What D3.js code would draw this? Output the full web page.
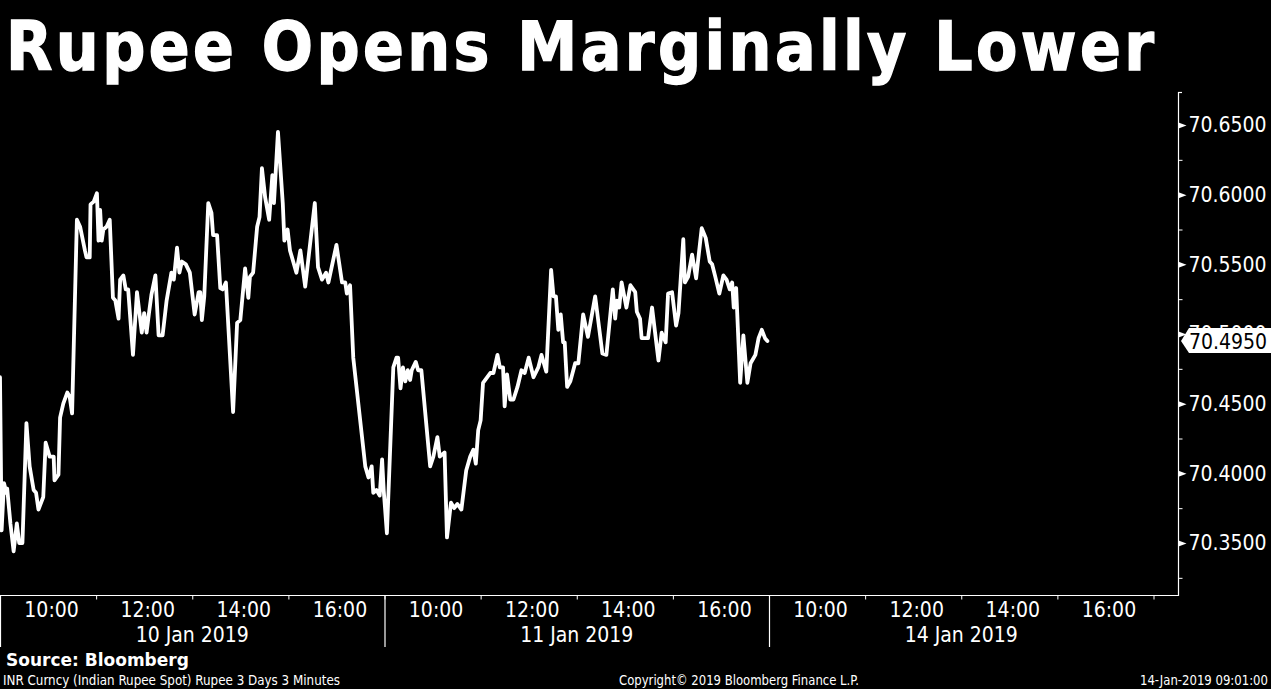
<!DOCTYPE html>
<html>
<head>
<meta charset="utf-8">
<script src="https://cdn.jsdelivr.net/npm/d3@7"></script>
<style>
  html, body { margin: 0; padding: 0; background: #000; }
  svg { display: block; }
  .cond { font-family: 'DejaVu Sans Condensed', 'DejaVu Sans', sans-serif; font-stretch: condensed; }
</style>
</head>
<body>
<svg id="chart" width="1271" height="689"></svg>
<script>
// ---------------- data ----------------
const titleText = "Rupee Opens Marginally Lower";
const sessionDates = ["10 Jan 2019", "11 Jan 2019", "14 Jan 2019"];
const sessionOpenHour = 9;   // 09:00
const sessionCloseHour = 17; // 17:00
const labelHours = [10, 12, 14, 16];
const labelTexts = ["10:00", "12:00", "14:00", "16:00"];
const minorHours = [11, 13, 15, 17];
const yTickValues = [70.35, 70.40, 70.45, 70.50, 70.55, 70.60, 70.65];
const yMinorTicks = [70.325, 70.375, 70.425, 70.475, 70.525, 70.575, 70.625];
const lastValue = 70.4950;

// minutes after 09:00 open, 10 Jan 2019
const jan10Minutes = [0,2,5,8,9,13,17,21,24,28,33,37,42,45,48,54,57,62,67,68,73,75,79,84,87,90,96,100,106,108,112,113,117,121,123,125,127,129,133,137,141,144,148,150,154,157,160,166,171,177,180,183,186,189,194,198,203,208,214,217,221,224,227,232,237,243,248,250,252,255,260,264,266,271,275,278,282,291,296,300,306,310,312,316,321,324,327,331,336,340,342,347,353,355,359,362,366,370,375,381,393,397,402,407,410,420,427,431,433,437,441,456,460,464,466,470,474,477,479];
const jan10Values = [70.469,70.359,70.393,70.386,70.389,70.364,70.344,70.364,70.350,70.350,70.436,70.405,70.388,70.386,70.374,70.383,70.422,70.412,70.412,70.395,70.399,70.440,70.450,70.458,70.455,70.443,70.582,70.577,70.560,70.555,70.555,70.593,70.595,70.601,70.567,70.589,70.567,70.575,70.577,70.582,70.526,70.524,70.511,70.539,70.542,70.532,70.532,70.485,70.530,70.501,70.515,70.501,70.515,70.528,70.542,70.499,70.499,70.524,70.544,70.539,70.562,70.544,70.552,70.550,70.544,70.514,70.530,70.530,70.510,70.527,70.594,70.587,70.571,70.571,70.533,70.532,70.537,70.444,70.508,70.510,70.547,70.526,70.541,70.544,70.577,70.584,70.619,70.598,70.582,70.614,70.594,70.645,70.594,70.567,70.575,70.560,70.552,70.544,70.560,70.534,70.594,70.548,70.539,70.544,70.537,70.564,70.537,70.537,70.529,70.535,70.483,70.405,70.397,70.405,70.386,70.388,70.384,70.410,70.388];

// minutes after 09:00 open, 11 Jan 2019
const jan11Minutes = [3,11,15,17,20,23,26,29,32,34,39,42,46,57,61,66,69,75,78,83,87,91,96,102,107,111,114,117,120,123,132,136,141,144,148,150,153,157,161,166,171,175,180,186,192,196,202,208,211,214,217,220,223,225,228,232,238,242,248,254,263,272,277,285,288,290,293,296,302,307,313,315,319,321,329,334,342,346,351,354,359,364,367,373,375,379,384,389,396,401,406,409,413,418,423,427,431,434,436,439,444,448,453,457,463,467,471,475,478];
const jan11Values = [70.357,70.476,70.483,70.483,70.461,70.476,70.466,70.474,70.467,70.474,70.480,70.474,70.474,70.405,70.412,70.426,70.412,70.415,70.354,70.379,70.375,70.378,70.374,70.402,70.412,70.417,70.407,70.431,70.438,70.465,70.472,70.472,70.485,70.476,70.476,70.448,70.471,70.453,70.453,70.462,70.474,70.472,70.483,70.469,70.476,70.485,70.473,70.546,70.527,70.527,70.503,70.514,70.494,70.494,70.462,70.466,70.479,70.479,70.514,70.498,70.527,70.486,70.485,70.532,70.511,70.524,70.519,70.537,70.519,70.535,70.530,70.516,70.511,70.497,70.497,70.519,70.481,70.501,70.494,70.529,70.530,70.506,70.515,70.568,70.537,70.541,70.557,70.540,70.576,70.569,70.552,70.550,70.541,70.529,70.542,70.539,70.532,70.537,70.519,70.533,70.465,70.499,70.465,70.479,70.485,70.497,70.503,70.497,70.495];

// ---------------- layout ----------------
const W = 1271, H = 689;
const plot = { left: 0, right: 1178, top: 92, bottom: 595 };
const sessionLen = (sessionCloseHour - sessionOpenHour) * 60;
const dayWidth = 384.5;

const svg = d3.select("#chart");
svg.append("rect").attr("width", W).attr("height", H).attr("fill", "#000");

// continuous trading-time scale: session index * 480 + minutes after open
const x = d3.scaleLinear()
  .domain([0, sessionDates.length * sessionLen])
  .range([plot.left, plot.left + dayWidth * sessionDates.length]);
const y = d3.scaleLinear()
  .domain([70.35, 70.65])
  .range([543, 125]);

const series = [
  ...jan10Minutes.map((m, i) => ({ t: 0 * sessionLen + m, v: jan10Values[i] })),
  ...jan11Minutes.map((m, i) => ({ t: 1 * sessionLen + m, v: jan11Values[i] }))
];

// ---------------- title ----------------
svg.append("text")
  .attr("x", 6).attr("y", 70)
  .attr("fill", "#fff")
  .attr("stroke", "#fff")
  .attr("stroke-width", 1.3)
  .attr("font-family", "'DejaVu Sans Condensed','DejaVu Sans',sans-serif")
  .attr("font-stretch", "condensed")
  .attr("font-weight", "bold")
  .attr("font-size", 67)
  .attr("textLength", 1148)
  .attr("lengthAdjust", "spacing")
  .text(titleText);

// ---------------- line ----------------
svg.append("clipPath").attr("id", "plotclip")
  .append("rect").attr("x", plot.left).attr("y", plot.top)
  .attr("width", plot.right - plot.left).attr("height", plot.bottom - plot.top);

svg.append("path")
  .datum(series)
  .attr("clip-path", "url(#plotclip)")
  .attr("fill", "none")
  .attr("stroke", "#fff")
  .attr("stroke-width", 3.8)
  .attr("stroke-linejoin", "round")
  .attr("stroke-linecap", "round")
  .attr("d", d3.line().x(d => x(d.t)).y(d => y(d.v)));

// ---------------- x axis ----------------
const axisColor = "#fff";
svg.append("line")
  .attr("x1", plot.left).attr("x2", plot.right)
  .attr("y1", plot.bottom + 0.5).attr("y2", plot.bottom + 0.5)
  .attr("stroke", axisColor).attr("stroke-width", 1.2);

const minorT = [], labT = [];
sessionDates.forEach((d, i) => {
  minorHours.forEach(h => minorT.push(i * sessionLen + (h - sessionOpenHour) * 60));
  labelHours.forEach((h, j) => labT.push({ t: i * sessionLen + (h - sessionOpenHour) * 60, s: labelTexts[j] }));
});

const xMinor = svg.append("g")
  .attr("transform", `translate(0,${plot.bottom + 0.5})`)
  .call(d3.axisBottom(x).tickValues(minorT).tickSize(4).tickFormat(""));
xMinor.select(".domain").remove();
xMinor.selectAll("line").attr("stroke", axisColor);

const labelMap = new Map(labT.map(d => [d.t, d.s]));
const xLab = svg.append("g")
  .attr("class", "cond")
  .attr("transform", `translate(3,${plot.bottom})`)
  .call(d3.axisBottom(x).tickValues(labT.map(d => d.t)).tickSize(0).tickPadding(7)
    .tickFormat(t => labelMap.get(t)));
xLab.select(".domain").remove();
xLab.selectAll("text")
  .attr("fill", "#fff")
  .attr("font-family", "'DejaVu Sans Condensed','DejaVu Sans',sans-serif")
  .attr("font-size", 21);

// day separators
d3.range(sessionDates.length).forEach(i => {
  svg.append("line")
    .attr("x1", x(i * sessionLen) + 0.5).attr("x2", x(i * sessionLen) + 0.5)
    .attr("y1", plot.bottom).attr("y2", 647)
    .attr("stroke", axisColor).attr("stroke-width", 1.2);
});
// date labels
svg.append("g").selectAll("text").data(sessionDates).join("text")
  .attr("class", "cond")
  .attr("x", (d, i) => x(i * sessionLen + sessionLen / 2))
  .attr("y", 642)
  .attr("text-anchor", "middle")
  .attr("fill", "#fff")
  .attr("font-size", 21)
  .text(d => d);

// ---------------- y axis ----------------
svg.append("line")
  .attr("x1", plot.right + 0.5).attr("x2", plot.right + 0.5)
  .attr("y1", plot.top).attr("y2", plot.bottom + 1)
  .attr("stroke", axisColor).attr("stroke-width", 1.2);
svg.append("line")
  .attr("x1", plot.right).attr("x2", plot.right + 4)
  .attr("y1", plot.top + 0.5).attr("y2", plot.top + 0.5)
  .attr("stroke", axisColor).attr("stroke-width", 1.2);

const yMinor = svg.append("g")
  .attr("transform", `translate(${plot.right + 0.5},0)`)
  .call(d3.axisRight(y).tickValues(yMinorTicks).tickSize(4).tickFormat(""));
yMinor.select(".domain").remove();
yMinor.selectAll("line").attr("stroke", axisColor);

const yAx = svg.append("g")
  .attr("transform", `translate(${plot.right + 0.5},0)`)
  .call(d3.axisRight(y).tickValues(yTickValues).tickSize(0).tickPadding(10)
    .tickFormat(d3.format(".4f")));
yAx.select(".domain").remove();
yAx.selectAll("text")
  .attr("fill", "#fff")
  .attr("font-family", "'DejaVu Sans Condensed','DejaVu Sans',sans-serif")
  .attr("font-size", 21);
yAx.selectAll(".tick").append("path")
  .attr("d", "M0,-3L8,0L0,3Z")
  .attr("fill", "#fff");

// last value tag
const ly = y(lastValue);
svg.append("path")
  .attr("d", `M${plot.right + 3},${ly}L${plot.right + 11},${ly - 13}L${W},${ly - 13}L${W},${ly + 12}L${plot.right + 11},${ly + 12}Z`)
  .attr("fill", "#fff");
svg.append("text")
  .attr("class", "cond")
  .attr("x", plot.right + 11).attr("y", ly + 8)
  .attr("fill", "#000")
  .attr("font-size", 21)
  .text(d3.format(".4f")(lastValue));

// ---------------- footer ----------------
svg.append("text")
  .attr("x", 6).attr("y", 666)
  .attr("fill", "#fff")
  .attr("font-family", "'DejaVu Sans',sans-serif")
  .attr("font-weight", "bold")
  .attr("font-size", 17)
  .text("Source: Bloomberg");

const foot = [
  { x: 3, anchor: "start", len: 337, s: "INR Curncy (Indian Rupee Spot) Rupee 3 Days 3 Minutes" },
  { x: 619, anchor: "start", len: 240, s: "Copyright\u00A9 2019 Bloomberg Finance L.P." },
  { x: 1268, anchor: "end", len: 128, s: "14-Jan-2019 09:01:00" }
];
svg.append("g").selectAll("text").data(foot).join("text")
  .attr("class", "cond")
  .attr("x", d => d.x).attr("y", 685)
  .attr("text-anchor", d => d.anchor)
  .attr("fill", "#fff")
  .attr("font-size", 13.2)
  .attr("textLength", d => d.len)
  .attr("lengthAdjust", "spacingAndGlyphs")
  .text(d => d.s);
</script>
</body>
</html>
